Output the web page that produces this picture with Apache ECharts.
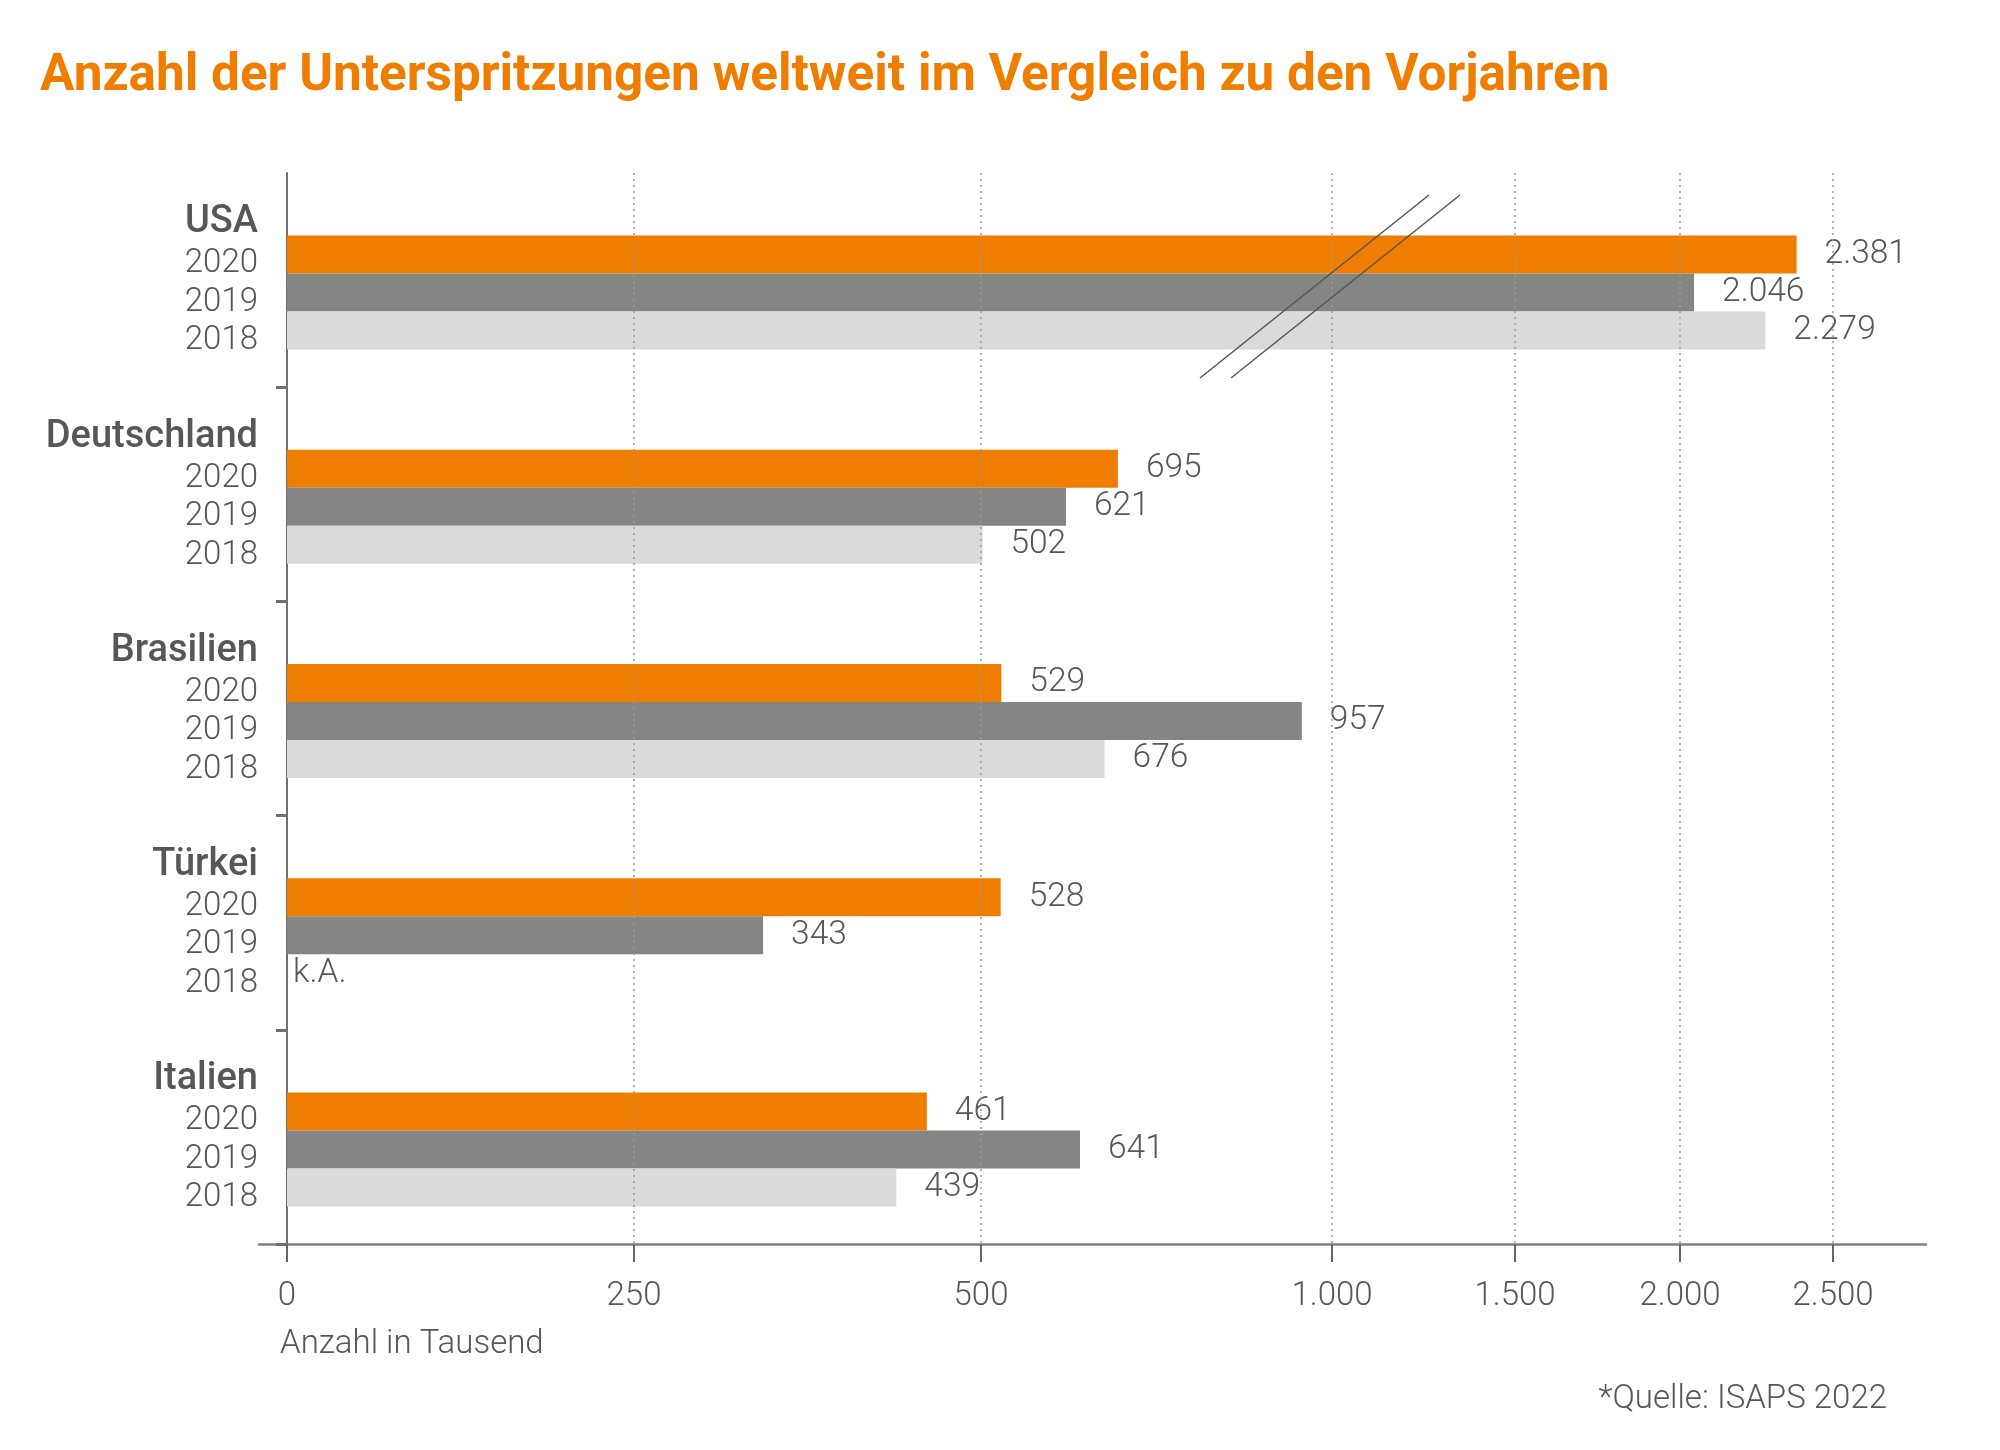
<!DOCTYPE html>
<html>
<head>
<meta charset="utf-8">
<script src="https://cdn.jsdelivr.net/npm/echarts@6/dist/echarts.min.js"></script>
<style>
html,body{margin:0;padding:0;background:#fff;}
#chart{width:2000px;height:1450px;}
</style>
</head>
<body>
<div id="chart"></div>
<script>
// ---- data ----
const categories = ['USA', 'Deutschland', 'Brasilien', 'Türkei', 'Italien'];
const years = ['2020', '2019', '2018'];
const values2020 = [2381, 695, 529, 528, 461];
const values2019 = [2046, 621, 957, 343, 641];
const values2018 = [2279, 502, 676, null, 439];
const tickValues = [0, 250, 500, 1000, 1500, 2000, 2500];
// broken (piecewise) axis scale: axis units for each tick value
const scaleUnits = [0, 347, 694, 1045, 1228, 1393, 1546];

function toAxis(v) {
  for (let i = 1; i < tickValues.length; i++) {
    if (v <= tickValues[i]) {
      const a = tickValues[i - 1], b = tickValues[i];
      return scaleUnits[i - 1] + (v - a) / (b - a) * (scaleUnits[i] - scaleUnits[i - 1]);
    }
  }
  const n = tickValues.length - 1;
  return scaleUnits[n] + (v - tickValues[n]) / (tickValues[n] - tickValues[n - 1]) * (scaleUnits[n] - scaleUnits[n - 1]);
}
function fmt(v) { return String(v).replace(/\B(?=(\d{3})+(?!\d))/g, '.'); }

const FONT = 'Roboto';
const TXT = '#575756';
const colors = ['#EE7D00', '#858584', '#DADADA'];
const seriesValues = [values2020, values2019, values2018];

const chart = echarts.init(document.getElementById('chart'));

const valueLabel = {
  show: true, position: 'right', distance: 22,
  fontFamily: FONT, fontSize: 33.5, fontWeight: 300, color: TXT,
  backgroundColor: '#fff', padding: [0, 6], lineHeight: 37
};

const barSeries = years.map((y, si) => ({
  type: 'bar', name: y, z: 3,
  barWidth: 38, barGap: 0,
  itemStyle: { color: colors[si] },
  label: Object.assign({}, valueLabel, {
    formatter: p => fmt(seriesValues[si][p.dataIndex])
  }),
  data: seriesValues[si].map(v => v == null
    ? { value: 0, label: { show: true, formatter: 'k.A.', distance: 6, backgroundColor: 'transparent', padding: 0 } }
    : toAxis(v))
}));

const option = {
  animation: false,
  title: {
    text: 'Anzahl der Unterspritzungen weltweit im Vergleich zu den Vorjahren',
    left: 35, top: 47,
    textStyle: { fontFamily: FONT, fontSize: 51.3, fontWeight: 'bold', color: '#EE7D00' }
  },
  grid: { left: 259, right: 74, top: 173, bottom: 206, containLabel: false, outerBoundsMode: 'none' },
  xAxis: {
    type: 'value', min: -28, max: 1639,
    axisLine: { show: true, onZero: false, lineStyle: { color: '#808080', width: 2.5 } },
    axisTick: { show: true, customValues: tickValues.map(toAxis), length: 18, lineStyle: { color: '#666', width: 2 } },
    axisLabel: {
      customValues: tickValues.map(toAxis), margin: 36,
      fontFamily: FONT, fontSize: 33, fontWeight: 300, color: TXT,
      formatter: val => {
        let best = 0;
        scaleUnits.forEach((u, i) => { if (Math.abs(u - val) < Math.abs(scaleUnits[best] - val)) best = i; });
        return fmt(tickValues[best]);
      }
    },
    splitLine: { show: false }
  },
  yAxis: {
    type: 'category', inverse: true, data: categories,
    axisLine: { show: true, onZero: true, lineStyle: { color: '#707070', width: 2 } },
    axisTick: { show: true, length: 11, interval: (i) => i > 0, lineStyle: { color: '#707070', width: 3 } },
    axisLabel: {
      interval: 0, margin: 1, align: 'right', padding: [8, 0, 0, 0],
      formatter: c => '{h|' + c + '}\n' + years.map(y => '{y|' + y + '}').join('\n') + '\n{s| }',
      rich: {
        h: { fontFamily: FONT, fontSize: 38, fontWeight: 500, color: TXT, lineHeight: 44, align: 'right' },
        y: { fontFamily: FONT, fontSize: 33, fontWeight: 300, color: TXT, lineHeight: 38.5, align: 'right' },
        s: { fontSize: 2, lineHeight: 7 }
      }
    }
  },
  series: [
    {
      type: 'bar', name: 'spacer', barWidth: 25, barGap: 0, silent: true,
      data: categories.map(() => null)
    }
  ].concat(barSeries).concat([
    {
      type: 'scatter', name: 'grid', data: [], z: 1, silent: true,
      markLine: {
        silent: true, symbol: 'none', animation: false,
        label: { show: false },
        lineStyle: { type: [2, 4], color: '#9a9a9a', width: 1.5 },
        data: tickValues.slice(1).map(v => ({ xAxis: toAxis(v) }))
      }
    }
  ]),
  graphic: [
    { type: 'line', z: 100, shape: { x1: 1200, y1: 378, x2: 1429, y2: 195 }, style: { stroke: '#555', lineWidth: 1.5 } },
    { type: 'line', z: 100, shape: { x1: 1231, y1: 378, x2: 1460, y2: 195 }, style: { stroke: '#555', lineWidth: 1.5 } },
    { type: 'text', left: 280, top: 1328, style: { text: 'Anzahl in Tausend', font: '300 33px Roboto', fill: TXT } },
    { type: 'text', right: 113, top: 1383, style: { text: '*Quelle: ISAPS 2022', font: '300 33px Roboto', fill: TXT } }
  ]
};
chart.setOption(option);
</script>
</body>
</html>
